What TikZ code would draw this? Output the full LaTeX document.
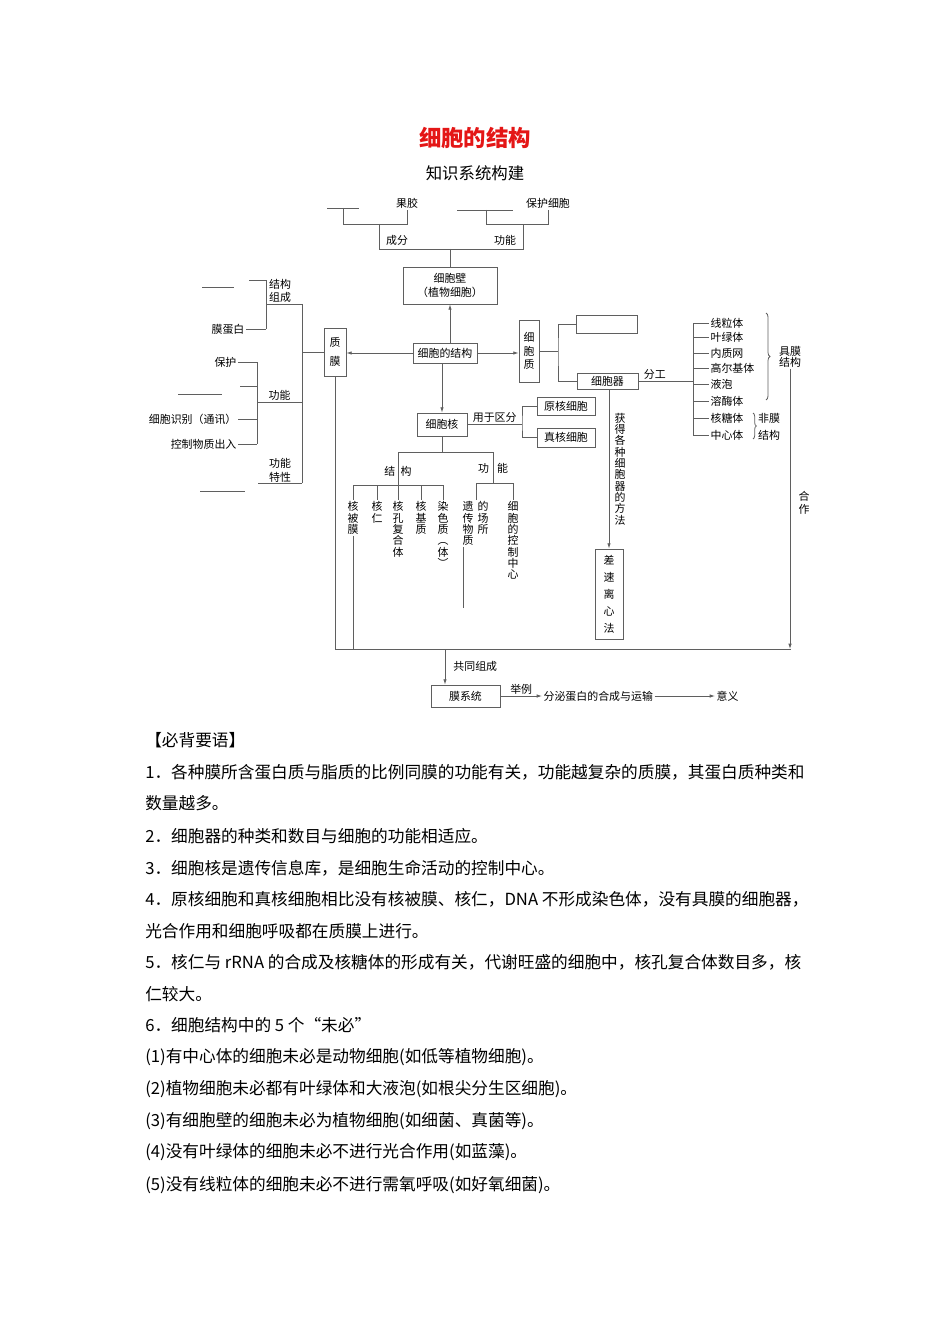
\documentclass[tikz,border=0pt]{standalone}
\usepackage{fontspec}
\setmainfont{Noto Sans CJK SC}
\usetikzlibrary{positioning,arrows.meta,decorations.pathreplacing}
\definecolor{titlered}{RGB}{228,22,22}
\definecolor{linegray}{RGB}{95,95,95}
\newcommand{\dfont}{\fontsize{8.2}{9}\selectfont}
\newcommand{\bodyfont}{\fontsize{12.5}{14}\selectfont}

\begin{document}
\begin{tikzpicture}[
        x=0.75pt, y=-0.75pt,
        box/.style  = {draw=linegray, line width=0.6pt, inner sep=0pt, font=\dfont},
        lbl/.style  = {inner sep=1pt, font=\dfont},
        vtxt/.style = {inner sep=1pt, align=center, font=\fontsize{8.2}{8.5}\selectfont},
        ln/.style   = {draw=linegray, line width=0.6pt},
        body/.style = {anchor=west, inner sep=0pt, font=\bodyfont},
        >={Latex[length=4pt,width=2.6pt]}
    ]
    \useasboundingbox (0,0) rectangle (950,1344);

    % title
    \node[font=\fontsize{16.8}{18}\selectfont\bfseries, text=titlered] (title) at (475,138) {细胞的结构};
    \node[font=\fontsize{12.3}{14}\selectfont] (sub) at (475,173) {知识系统构建};

    % cell wall
    \node[lbl] (gj) at (407,203) {果胶};
    \node[lbl] (bhxb) at (548,203) {保护细胞};
    \node[lbl] (cf) at (397,240) {成分};
    \node[lbl] (gn) at (505,240) {功能};
    \node[box, minimum width=70.5pt, minimum height=27.75pt, align=center,
          font=\fontsize{8.2}{10.5}\selectfont] (xbb) at (450,285.5) {细胞壁\\（植物细胞）};
    \draw[ln] (327,208) -- (359,208);
    \draw[ln] (343,208) -- (343,224) -| (gj);
    \draw[ln] (457,210) -- (513,210);
    \draw[ln] (486,210) -- (486,224) -| (bhxb);
    \draw[ln] (379,224) -- (379,249) -| (523,224);
    \draw[ln] (xbb.north |- 0,249) -- (xbb.north);

    % centre
    \node[box, minimum width=48pt, minimum height=15pt] (jg) at (445,353) {细胞的结构};
    \node[box, minimum width=16.5pt, minimum height=36pt, align=center,
          font=\fontsize{8.2}{14.25}\selectfont] (zm) at (335,352) {质\\膜};
    \node[box, minimum width=15pt, minimum height=46.5pt, align=center,
          font=\fontsize{8.2}{10}\selectfont] (xbz) at (529,351) {细\\胞\\质};
    \node[box, minimum width=45.75pt, minimum height=13.5pt] (bk) at (606.5,324) {};
    \node[box, minimum width=45.75pt, minimum height=12pt] (xbq) at (607.5,381) {细胞器};
    \node[box, minimum width=37.5pt, minimum height=17.25pt] (xbh) at (442,424.5) {细胞核};
    \node[box, minimum width=43.5pt, minimum height=13.5pt] (yh) at (566,406) {原核细胞};
    \node[box, minimum width=43.5pt, minimum height=14.25pt] (zh) at (566,437.5) {真核细胞};
    \node[box, minimum width=21pt, minimum height=67.5pt, align=center,
          font=\fontsize{8.2}{12.75}\selectfont] (cs) at (609,594) {差\\速\\离\\心\\法};

    \draw[ln,->] (jg.north -| xbb.south) -- (xbb.south);
    \draw[ln,->] (jg.west) -- (zm.east |- jg.west);
    \draw[ln,->] (jg.east) -- (xbz.west |- jg.east);
    \draw[ln,->] (jg.south -| xbh.north) -- (xbh.north);

    \coordinate (zq) at (558,351);
    \draw[ln] (xbz.east) -- (zq);
    \draw[ln] (bk.west) -| (zq) |- (xbq.west);

    \coordinate (qf) at (522,424.5);
    \draw[ln] (xbh.east) -- (qf) node[midway, above, lbl] {用于区分};
    \draw[ln] (yh.west) -| (qf) |- (zh.west);

    % nucleus
    \draw[ln] (xbh.south) -- (xbh.south |- 0,452);
    \draw[ln] (398,452) -- (493,452);
    \draw[ln] (398,452) -- (398,485);
    \node[lbl] (hjg) at (398,471) {结\hspace{4pt}构};
    \draw[ln] (353,485) -- (443,485);
    \node[vtxt, anchor=north] (hbm) at (353,500) {核\\被\\膜};
    \node[vtxt, anchor=north] (hr)  at (377,500) {核\\仁};
    \node[vtxt, anchor=north] (hk)  at (398,500) {核\\孔\\复\\合\\体};
    \node[vtxt, anchor=north] (hjz) at (421,500) {核\\基\\质};
    \node[vtxt, anchor=north] (rsz) at (443,500) {染\\色\\质\\︵\\体\\︶};
    \foreach \n in {hbm,hr,hk,hjz,rsz}
        \draw[ln] (\n.north |- 0,485) -- (\n.north);

    \draw[ln] (493,452) -- (493,483);
    \node[lbl] (hgn) at (493,468) {功\hspace{6pt}能};
    \draw[ln] (476,483) -- (513,483);
    \node[vtxt, anchor=north] (yc1) at (468,500) {遗\\传\\物\\质};
    \node[vtxt, anchor=north] (yc2) at (483,500) {的\\场\\所};
    \node[vtxt, anchor=north] (kz)  at (513,500) {细\\胞\\的\\控\\制\\中\\心};
    \draw[ln] (476,483) -- (476,500);
    \draw[ln] (kz.north |- 0,483) -- (kz.north);
    \draw[ln] (463,547) -- (463,608);

    % organelles
    \draw[ln,->] (xbq.south -| cs.north) -- (cs.north)
        node[midway, right=3pt, vtxt] {获\\得\\各\\种\\细\\胞\\器\\的\\方\\法};
    \coordinate (fg) at (693,381);
    \draw[ln] (xbq.east) -- (fg) node[pos=0.3, above, lbl] {分工};
    \draw[ln] (693,323) -- (693,435);
    \foreach \y/\t/\n in {323/线粒体/o1, 337/叶绿体/o2, 353/内质网/o3, 368/高尔基体/o4,
                          384/液泡/o5, 401/溶酶体/o6, 418/核糖体/o7, 435/中心体/o8} {
        \node[lbl, anchor=west] (\n) at (709,\y) {\t};
        \draw[ln] (693,\y) -- (\n.west);
    }
    \draw[ln, decorate, decoration={brace, amplitude=3pt}] (766,313) -- (766,400);
    \node[vtxt, font=\fontsize{8.2}{8.4}\selectfont] (jm) at (790,357) {具膜\\结构};
    \draw[ln, decorate, decoration={brace, amplitude=2.5pt}] (753,413) -- (753,439);
    \node[vtxt, font=\fontsize{8.2}{12.75}\selectfont] (fm) at (769,426.5) {非膜\\结构};

    % plasma membrane
    \coordinate (zl) at (302,353);
    \draw[ln] (zm.west) -- (zm.west -| zl);
    \draw[ln] (302,304) -- (302,483);
    \draw[ln] (302,304) -- (266,304);
    \draw[ln] (249,280) -- (266,280) -- (266,329);
    \node[vtxt, font=\fontsize{8.2}{9.75}\selectfont] (jgzc) at (280,291) {结构\\组成};
    \draw[ln] (202,287) -- (234,287);
    \node[lbl, anchor=east] (mdb) at (246,329) {膜蛋白};
    \draw[ln] (mdb.east) -- (266,329);

    \draw[ln] (302,402) -- (257,402) node[midway, above, lbl] {功能};
    \draw[ln] (257,362) -- (257,444);
    \node[lbl, anchor=east] (bh) at (238,362) {保护};
    \node[lbl, anchor=east] (sb) at (238,419) {细胞识别（通讯）};
    \node[lbl, anchor=east] (kzcr) at (238,444) {控制物质出入};
    \foreach \n in {bh,sb,kzcr}
        \draw[ln] (\n.east) -- (\n.east -| 257,0);
    \draw[ln] (240,386) -- (257,386);
    \draw[ln] (178,394) -- (222,394);

    \draw[ln] (302,483) -- (258,483);
    \node[vtxt, font=\fontsize{8.2}{10.5}\selectfont] (gntx) at (280,470) {功能\\特性};
    \draw[ln] (200,491) -- (245,491);

    % membrane system
    \coordinate (dl) at (333,649);
    \coordinate (dr) at (791,649);
    \draw[ln] (zm.south) -- (zm.south |- dl) -- (dr);
    \draw[ln] (hbm.south) -- (hbm.south |- dl);
    \draw[ln,->] (jm.south) -- (jm.south |- dr);
    \node[vtxt, font=\fontsize{8.2}{9.75}\selectfont] (hz) at (804,503) {合\\作};

    \node[box, minimum width=51.75pt, minimum height=16.5pt] (mxt) at (465.5,696) {膜系统};
    \coordinate (gt) at (445,649);
    \draw[ln,->] (gt) -- (gt |- mxt.north) node[midway, right=5pt, lbl] {共同组成};
    \node[lbl, anchor=west] (fmdb) at (542,696) {分泌蛋白的合成与运输};
    \node[lbl, anchor=west] (yy) at (715,696) {意义};
    \draw[ln,->] (mxt.east) -- (fmdb.west) node[midway, above, lbl] {举例};
    \draw[ln,->] (fmdb.east) -- (yy.west);

    % text
    \node[body] (t0)  at (145,740)  {【必背要语】};
    \node[body] (t1)  at (145,772)  {1．各种膜所含蛋白质与脂质的比例同膜的功能有关，功能越复杂的质膜，其蛋白质种类和};
    \node[body] (t1b) at (145,803)  {数量越多。};
    \node[body] (t2)  at (145,836)  {2．细胞器的种类和数目与细胞的功能相适应。};
    \node[body] (t3)  at (145,868)  {3．细胞核是遗传信息库，是细胞生命活动的控制中心。};
    \node[body] (t4)  at (145,899)  {4．原核细胞和真核细胞相比没有核被膜、核仁，DNA 不形成染色体，没有具膜的细胞器，};
    \node[body] (t4b) at (145,931)  {光合作用和细胞呼吸都在质膜上进行。};
    \node[body] (t5)  at (145,962)  {5．核仁与 rRNA 的合成及核糖体的形成有关，代谢旺盛的细胞中，核孔复合体数目多，核};
    \node[body] (t5b) at (145,994)  {仁较大。};
    \node[body] (t6)  at (145,1025) {6．细胞结构中的 5 个“未必”};
    \node[body] (w1)  at (145,1057) {(1)有中心体的细胞未必是动物细胞(如低等植物细胞)。};
    \node[body] (w2)  at (145,1089) {(2)植物细胞未必都有叶绿体和大液泡(如根尖分生区细胞)。};
    \node[body] (w3)  at (145,1121) {(3)有细胞壁的细胞未必为植物细胞(如细菌、真菌等)。};
    \node[body] (w4)  at (145,1152) {(4)没有叶绿体的细胞未必不进行光合作用(如蓝藻)。};
    \node[body] (w5)  at (145,1185) {(5)没有线粒体的细胞未必不进行需氧呼吸(如好氧细菌)。};
\end{tikzpicture}
\end{document}
